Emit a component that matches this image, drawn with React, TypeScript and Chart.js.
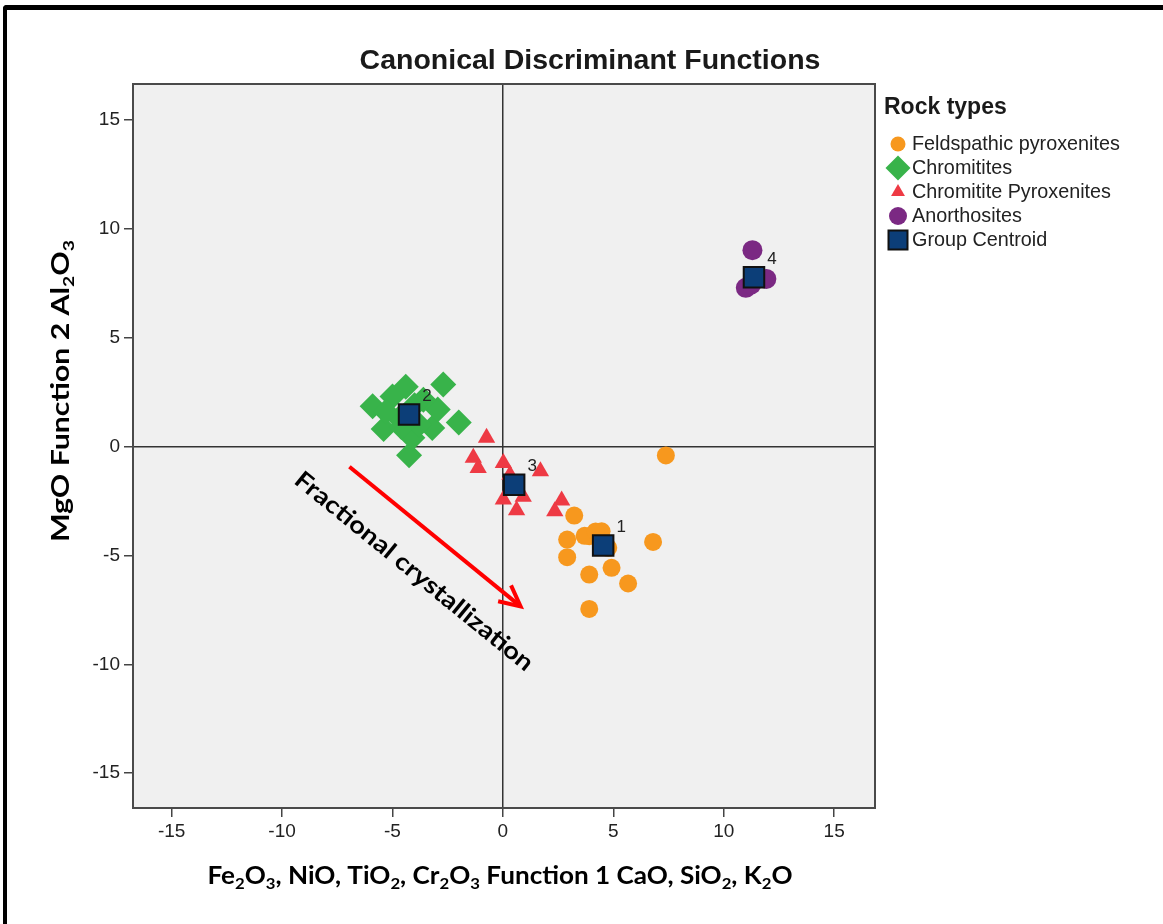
import React, { useEffect, useRef } from "react";
import { Chart, registerables } from "chart.js";

Chart.register(...registerables);

// Discriminant scores: [Function 1, Function 2] for each sample
const feldspathicPyroxenites: [number, number][] = [
  [7.38, -0.41], [3.23, -3.17], [2.91, -4.27], [2.91, -5.08], [3.91, -4.12],
  [4.47, -3.89], [4.77, -4.65], [6.8, -4.38], [4.92, -5.57], [3.91, -5.88],
  [5.67, -6.29], [3.91, -7.46], [3.7, -4.1], [4.2, -3.9],
];

const chromitites: [number, number][] = [
  [-2.7, 2.85], [-2.0, 1.1], [-4.25, -0.4], [-4.4, 2.75], [-5.9, 1.85],
  [-5.4, 0.8], [-3.2, 0.85], [-2.95, 1.7], [-4.1, 0.4], [-5.0, 2.3],
  [-3.6, 2.15], [-4.7, 1.3], [-3.8, 1.0], [-5.3, 1.6], [-4.0, 1.9], [-4.6, 0.9],
];

const chromititePyroxenites: [number, number][] = [
  [-0.74, 0.4], [-1.34, -0.52], [-1.12, -0.98], [0.02, -0.75], [1.7, -1.13],
  [0.02, -2.43], [0.92, -2.31], [0.62, -2.92], [2.66, -2.48], [2.35, -2.97],
  [0.32, -1.29],
];

const anorthosites: [number, number][] = [
  [11.3, 9.02], [11.0, 7.29], [11.93, 7.7], [11.25, 7.44],
];

const groupCentroids: [number, number][] = [
  [4.54, -4.55], [-4.25, 1.47], [0.51, -1.75], [11.37, 7.78],
];
const centroidLabels = ["1", "2", "3", "4"];

const groupNames = [
  "Feldspathic pyroxenites",
  "Chromitites",
  "Chromitite Pyroxenites",
  "Anorthosites",
  "Group Centroid",
];

const xTicks = [-15, -10, -5, 0, 5, 10, 15];
const yTicks = [-15, -10, -5, 0, 5, 10, 15];
const xRange: [number, number] = [-16.75, 16.85];
const yRange: [number, number] = [-16.6, 16.65];

const chartTitle = "Canonical Discriminant Functions";
const legendTitle = "Rock types";
// "_" marks the next character as a subscript
const xAxisTitle = "Fe_2O_3, NiO, TiO_2, Cr_2O_3 Function 1 CaO, SiO_2, K_2O";
const yAxisTitle = "MgO Function 2 Al_2O_3";

// trend arrow and its caption, in score units
const arrowFrom: [number, number] = [-6.95, -0.93];
const arrowTo: [number, number] = [0.8, -7.34];
const arrowCaption = "Fractional crystallization";
const captionAnchor: [number, number] = [-4.0, -5.7];

const ORANGE = "#F7981E";
const GREEN = "#38B34A";
const RED = "#EE3A44";
const PURPLE = "#7B2983";
const NAVY = "#0C3E78";

const SANS = '"Liberation Sans", Arial, sans-serif';
const HUMANIST = 'Lato, "Open Sans", sans-serif';

type Seg = { t: string; sub: boolean };

function splitSubscripts(s: string): Seg[] {
  const out: Seg[] = [];
  let buf = "";
  for (let i = 0; i < s.length; i++) {
    if (s[i] === "_" && i + 1 < s.length) {
      if (buf) out.push({ t: buf, sub: false });
      buf = "";
      out.push({ t: s[i + 1], sub: true });
      i++;
    } else {
      buf += s[i];
    }
  }
  if (buf) out.push({ t: buf, sub: false });
  return out;
}

// Bold text with subscripts, centred on (x, y), condensed to the given width
function drawRichText(
  ctx: CanvasRenderingContext2D,
  text: string,
  x: number,
  y: number,
  angle: number,
  size: number,
  width: number
) {
  const parts = splitSubscripts(text);
  const mainFont = `bold ${size}px ${HUMANIST}`;
  const subFont = `bold ${Math.round(size * 0.62)}px ${HUMANIST}`;
  let total = 0;
  const widths = parts.map((p) => {
    ctx.font = p.sub ? subFont : mainFont;
    const w = ctx.measureText(p.t).width;
    total += w;
    return w;
  });
  const sx = width / total;
  ctx.save();
  ctx.translate(x, y);
  ctx.rotate(angle);
  ctx.scale(sx, 1);
  ctx.fillStyle = "#000";
  ctx.textAlign = "left";
  ctx.textBaseline = "alphabetic";
  let cx = -total / 2;
  const base = size * 0.36;
  parts.forEach((p, i) => {
    ctx.font = p.sub ? subFont : mainFont;
    ctx.fillText(p.t, cx, p.sub ? base + size * 0.18 : base);
    cx += widths[i];
  });
  ctx.restore();
}

function drawMarker(
  ctx: CanvasRenderingContext2D,
  style: string,
  x: number,
  y: number,
  r: number,
  fill: string,
  stroke?: string
) {
  ctx.beginPath();
  if (style === "circle") {
    ctx.arc(x, y, r, 0, Math.PI * 2);
  } else if (style === "rectRot") {
    ctx.moveTo(x - r, y);
    ctx.lineTo(x, y - r);
    ctx.lineTo(x + r, y);
    ctx.lineTo(x, y + r);
  } else if (style === "triangle") {
    ctx.moveTo(x, y - r);
    ctx.lineTo(x + 0.866 * r, y + 0.5 * r);
    ctx.lineTo(x - 0.866 * r, y + 0.5 * r);
  } else {
    ctx.rect(x - r, y - r, 2 * r, 2 * r);
  }
  ctx.closePath();
  ctx.fillStyle = fill;
  ctx.fill();
  if (stroke) {
    ctx.strokeStyle = stroke;
    ctx.lineWidth = 2;
    ctx.stroke();
  }
}

const decorations = {
  id: "decorations",
  beforeDraw(chart: any) {
    const { ctx, chartArea: a } = chart;
    ctx.save();
    ctx.fillStyle = "#F0F0F0";
    ctx.fillRect(a.left, a.top, a.right - a.left, a.bottom - a.top);
    ctx.restore();
  },
  afterDatasetsDraw(chart: any) {
    const { ctx, chartArea: a, scales } = chart;
    const xs = scales.x;
    const ys = scales.y;

    // plot frame
    ctx.save();
    ctx.strokeStyle = "#4a4a4a";
    ctx.lineWidth = 2;
    ctx.strokeRect(a.left, a.top, a.right - a.left, a.bottom - a.top);

    // centroid numbers
    ctx.fillStyle = "#222";
    ctx.font = `17px ${SANS}`;
    ctx.textAlign = "center";
    ctx.textBaseline = "middle";
    groupCentroids.forEach(([vx, vy], i) => {
      ctx.fillText(
        centroidLabels[i],
        xs.getPixelForValue(vx) + 18,
        ys.getPixelForValue(vy) - 18
      );
    });

    // trend arrow
    const x1 = xs.getPixelForValue(arrowFrom[0]);
    const y1 = ys.getPixelForValue(arrowFrom[1]);
    const x2 = xs.getPixelForValue(arrowTo[0]);
    const y2 = ys.getPixelForValue(arrowTo[1]);
    const ang = Math.atan2(y2 - y1, x2 - x1);
    ctx.strokeStyle = "#FF0000";
    ctx.lineWidth = 4;
    ctx.beginPath();
    ctx.moveTo(x1, y1);
    ctx.lineTo(x2 - 2 * Math.cos(ang), y2 - 2 * Math.sin(ang));
    ctx.stroke();
    const head = 23;
    const spread = 0.46;
    ctx.beginPath();
    ctx.moveTo(x2 - head * Math.cos(ang - spread), y2 - head * Math.sin(ang - spread));
    ctx.lineTo(x2, y2);
    ctx.lineTo(x2 - head * Math.cos(ang + spread), y2 - head * Math.sin(ang + spread));
    ctx.lineJoin = "miter";
    ctx.stroke();

    drawRichText(
      ctx,
      arrowCaption,
      xs.getPixelForValue(captionAnchor[0]),
      ys.getPixelForValue(captionAnchor[1]),
      ang,
      24,
      300
    );
    ctx.restore();
  },
  afterDraw(chart: any) {
    const { ctx } = chart;
    ctx.save();

    // title
    ctx.fillStyle = "#1a1a1a";
    ctx.font = `bold 28.5px ${SANS}`;
    ctx.textAlign = "center";
    ctx.textBaseline = "middle";
    ctx.fillText(chartTitle, 590, 61);

    // axis titles
    drawRichText(ctx, xAxisTitle, 500, 875, 0, 25, 585);
    drawRichText(ctx, yAxisTitle, 60, 391, -Math.PI / 2, 25, 302);

    // legend
    ctx.textAlign = "left";
    ctx.fillStyle = "#1a1a1a";
    ctx.font = `bold 23px ${SANS}`;
    ctx.fillText(legendTitle, 884, 108);
    const markers: [string, number, string, string?][] = [
      ["circle", 7.5, ORANGE],
      ["rectRot", 12.5, GREEN],
      ["triangle", 8, RED],
      ["circle", 9, PURPLE],
      ["rect", 9.5, NAVY, "#111"],
    ];
    groupNames.forEach((name, i) => {
      const y = 144 + i * 24;
      const [style, r, fill, stroke] = markers[i];
      drawMarker(ctx, style, 898, y, r, fill, stroke);
      ctx.fillStyle = "#222";
      ctx.font = `19.8px ${SANS}`;
      ctx.textBaseline = "middle";
      ctx.fillText(name, 912, y + 1);
    });
    ctx.restore();
  },
};

const toPoints = (pts: [number, number][]) => pts.map(([x, y]) => ({ x, y }));

export default function App() {
  const ref = useRef<HTMLCanvasElement>(null);

  useEffect(() => {
    const canvas = ref.current;
    if (!canvas) return;

    const group = (
      label: string,
      pts: [number, number][],
      pointStyle: string,
      color: string,
      radius: number,
      order: number
    ) => ({
      label,
      data: toPoints(pts),
      pointStyle,
      pointRadius: radius,
      pointHoverRadius: radius,
      backgroundColor: color,
      borderColor: color,
      borderWidth: 0,
      order,
    });

    const axis = (range: [number, number], ticks: number[], isX: boolean) => ({
      type: "linear" as const,
      min: range[0],
      max: range[1],
      afterBuildTicks: (s: any) => {
        s.ticks = ticks.map((v) => ({ value: v }));
      },
      afterFit: (s: any) => {
        if (isX) s.height = 116;
        else s.width = 133;
      },
      ticks: {
        color: "#222",
        font: { family: SANS, size: 19 },
        padding: isX ? 3 : 4,
        maxRotation: 0,
        callback: (v: any) => String(v),
      },
      grid: {
        color: (c: any) => (c.tick && c.tick.value === 0 ? "#333" : "rgba(0,0,0,0)"),
        lineWidth: 1.5,
        tickColor: "#444",
        tickLength: 9,
        tickWidth: 1.5,
      },
      border: { display: true, color: "#4a4a4a", width: 2 },
    });

    const chart = new Chart(canvas, {
      type: "scatter",
      data: {
        datasets: [
          group(groupNames[0], feldspathicPyroxenites, "circle", ORANGE, 9, 4),
          group(groupNames[1], chromitites, "rectRot", GREEN, 13, 3),
          group(groupNames[2], chromititePyroxenites, "triangle", RED, 10, 2),
          group(groupNames[3], anorthosites, "circle", PURPLE, 10, 1),
          {
            label: groupNames[4],
            data: toPoints(groupCentroids),
            pointStyle: "rect",
            pointRadius: 14.5,
            pointHoverRadius: 14.5,
            backgroundColor: NAVY,
            borderColor: "#111",
            borderWidth: 2,
            order: 0,
          },
        ] as any,
      },
      options: {
        animation: false,
        responsive: false,
        maintainAspectRatio: false,
        events: [],
        layout: { padding: { left: 0, top: 84, right: 288, bottom: 0 } },
        plugins: {
          legend: { display: false },
          title: { display: false },
          tooltip: { enabled: false },
        },
        scales: {
          x: axis(xRange, xTicks, true) as any,
          y: axis(yRange, yTicks, false) as any,
        },
      },
      plugins: [decorations],
    });

    return () => chart.destroy();
  }, []);

  return (
    <div
      style={{
        position: "absolute",
        left: 0,
        top: 0,
        width: 1163,
        height: 924,
        background: "#fff",
        overflow: "hidden",
      }}
    >
      <div
        style={{
          position: "absolute",
          left: 3,
          top: 5,
          width: 1220,
          height: 1000,
          borderLeft: "4px solid #000",
          borderTop: "5px solid #000",
          borderTopLeftRadius: 4,
        }}
      />
      <canvas
        ref={ref}
        width={1163}
        height={924}
        style={{ position: "absolute", left: 0, top: 0, width: 1163, height: 924 }}
      />
    </div>
  );
}
